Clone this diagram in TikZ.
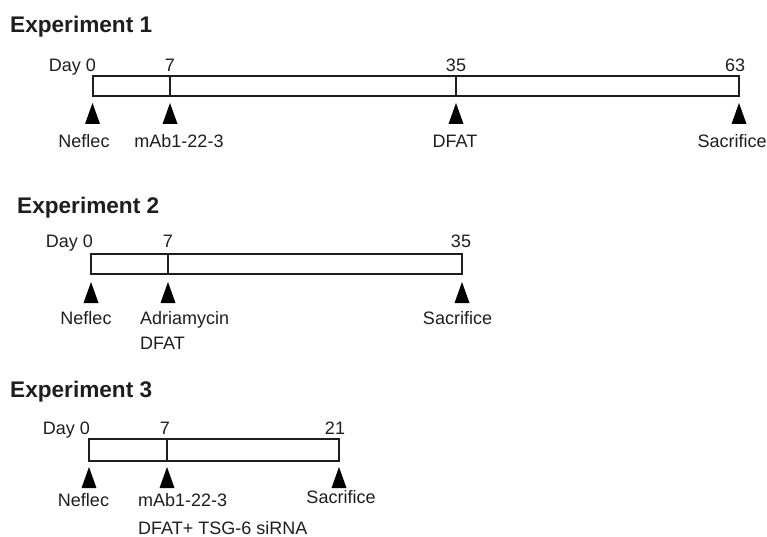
\documentclass[tikz,border=0pt]{standalone}
\usepackage{fontspec}
\setmainfont{Liberation Sans}
\definecolor{ink}{HTML}{1E1E1E}
\begin{document}
\begin{tikzpicture}[x=1pt,y=-1pt,
  ttl/.style={anchor=base west,inner sep=0pt,font=\fontsize{22.6}{25}\selectfont\bfseries,text=ink},
  lbl/.style={anchor=base,inner sep=0pt,font=\fontsize{18}{21}\selectfont,text=ink},
  bar/.style={draw=ink,line width=2pt},
  tri/.style={fill=black}]
\useasboundingbox (0,0) rectangle (767,537);
% ---------- Experiment 1
\node[ttl] (t1) at (10,33) {Experiment 1};
\draw[bar] (92.5,76) rectangle (739,96.5);
\draw[bar] (170,76) -- (170,96.5);
\draw[bar] (456,76) -- (456,96.5);
\node[lbl,anchor=base east] (e1d0) at (96,71.5) {Day 0};
\node[lbl] (e1d7) at (170,71.5) {7};
\node[lbl] (e1d35) at (456,71.5) {35};
\node[lbl] (e1d63) at (735,71.5) {63};
\foreach \x in {92.5,170,456,739}
  \fill[tri] (\x,103) -- (\x+7.5,124) -- (\x-7.5,124) -- cycle;
\node[lbl] (e1a) at (84,147.5) {Neflec};
\node[lbl] (e1b) at (179,147.5) {mAb1-22-3};
\node[lbl] (e1c) at (455,147.5) {DFAT};
\node[lbl] (e1e) at (732,147.5) {Sacrifice};
% ---------- Experiment 2
\node[ttl] (t2) at (17,213) {Experiment 2};
\draw[bar] (91,254) rectangle (462,274);
\draw[bar] (168,254) -- (168,274);
\node[lbl,anchor=base east] (e2d0) at (93,247.5) {Day 0};
\node[lbl] (e2d7) at (168,247.5) {7};
\node[lbl] (e2d35) at (461,247.5) {35};
\foreach \x in {91,168,462}
  \fill[tri] (\x,282) -- (\x+7.5,303) -- (\x-7.5,303) -- cycle;
\node[lbl] (e2a) at (86,324.5) {Neflec};
\node[lbl,anchor=base west] (e2b) at (140,324.5) {Adriamycin};
\node[lbl,anchor=base west] (e2c) at (140,349.5) {DFAT};
\node[lbl] (e2e) at (457.5,324.5) {Sacrifice};
% ---------- Experiment 3
\node[ttl] (t3) at (10,397) {Experiment 3};
\draw[bar] (89,439) rectangle (339,461);
\draw[bar] (167,439) -- (167,461);
\node[lbl,anchor=base east] (e3d0) at (90,434) {Day 0};
\node[lbl] (e3d7) at (165,434) {7};
\node[lbl] (e3d21) at (335,434) {21};
\foreach \x in {89,167,339}
  \fill[tri] (\x,467) -- (\x+7.5,488) -- (\x-7.5,488) -- cycle;
\node[lbl] (e3a) at (83.5,506.5) {Neflec};
\node[lbl,anchor=base west] (e3b) at (138,506.5) {mAb1-22-3};
\node[lbl,anchor=base west] (e3c) at (138,534.5) {DFAT+ TSG-6 siRNA};
\node[lbl] (e3e) at (341,503.5) {Sacrifice};
\end{tikzpicture}
\end{document}
